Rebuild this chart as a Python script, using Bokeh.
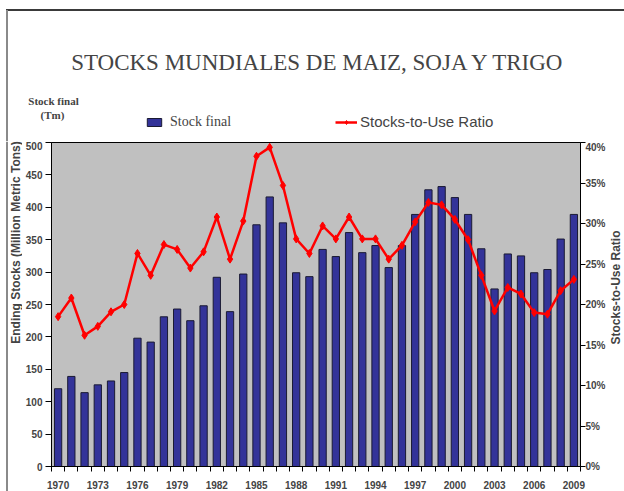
import math
from bokeh.plotting import figure
from bokeh.layouts import column, row
from bokeh.models import (Range1d, LinearAxis, FixedTicker, NumeralTickFormatter,
                          Label, Legend, LegendItem, ColumnDataSource, Span, BoxAnnotation)
from bokeh.embed import file_html
from bokeh.resources import INLINE

years = list(range(1970, 2010))
stocks = [120, 139, 114, 126, 132, 145, 198, 192, 231, 243, 225, 248, 292, 239, 297,
          373, 416, 376, 299, 293, 335, 324, 361, 330, 341, 307, 341, 389, 427, 432,
          415, 389, 336, 274, 328, 325, 299, 304, 351, 389]
ratio_pct = [18.5, 20.8, 16.2, 17.3, 19.1, 20.0, 26.3, 23.6, 27.4, 26.8, 24.5, 26.5,
             30.8, 25.6, 30.3, 38.3, 39.4, 34.7, 28.1, 26.3, 29.7, 28.1, 30.8, 28.1,
             28.1, 25.6, 27.3, 30.2, 32.6, 32.3, 30.5, 28.0, 23.6, 19.2, 22.1, 21.3,
             19.0, 18.8, 21.7, 23.1]
label_years = list(range(1970, 2010, 3))
left_ticks = list(range(0, 501, 50))
right_ticks = [0, 0.05, 0.10, 0.15, 0.20, 0.25, 0.30, 0.35, 0.40]

SANS = "Liberation Sans"
SERIF = "Liberation Serif"
BAR_STYLE = dict(fill_color="#333399", line_color="#1a1a33", line_width=1)
LINE_STYLE = dict(line_color="#ff0000", line_width=2.5)
MARK_STYLE = dict(marker="diamond", size=8, fill_color="#ff0000", line_color="#ff0000")

W = 624
HDR_H = 141
CH_H = 491 - HDR_H
LW = 22      # left strip (y-axis title)
RW = 16      # right strip (secondary axis title)
CW = W - LW - RW


def no_align(fig):
    try:
        fig.frame_align = False
    except Exception:
        pass


def blank(width, height):
    f = figure(width=width, height=height, output_backend="svg", toolbar_location=None,
               x_range=Range1d(0, width), y_range=Range1d(0, height),
               x_axis_type=None, y_axis_type=None, min_border=0)
    f.outline_line_color = None
    f.background_fill_color = "white"
    f.border_fill_color = "white"
    f.xgrid.visible = False
    f.ygrid.visible = False
    no_align(f)
    return f


# ---------------- header (title + legend) ----------------
hdr = blank(W, HDR_H)
# slide frame lines
hdr.add_layout(BoxAnnotation(left=5.5, bottom=HDR_H - 10.5, top=HDR_H - 8.5,
                             fill_color="#3a3a3a", fill_alpha=1, line_alpha=0))
hdr.add_layout(BoxAnnotation(left=5.5, right=7.5, top=HDR_H - 9.5,
                             fill_color="#8a8a8a", fill_alpha=1, line_alpha=0))

proxy = ColumnDataSource(dict(x=[float("nan")], y=[float("nan")]))
hb = hdr.vbar(x="x", top="y", width=1, source=proxy, **BAR_STYLE)
hl = hdr.line(x="x", y="y", source=proxy, **LINE_STYLE)
hs = hdr.scatter(x="x", y="y", source=proxy, **MARK_STYLE)

leg1 = Legend(items=[LegendItem(label="Stock final", renderers=[hb])],
              location=(145, 11), orientation="horizontal",
              label_text_font=SERIF, label_text_font_size="14px",
              background_fill_alpha=0, border_line_alpha=0, padding=0, margin=0,
              glyph_width=18, glyph_height=10, label_standoff=7)
leg2 = Legend(items=[LegendItem(label="Stocks-to-Use Ratio", renderers=[hl, hs])],
              location=(335, 11), orientation="horizontal",
              label_text_font=SANS, label_text_font_size="15px",
              background_fill_alpha=0, border_line_alpha=0, padding=0, margin=0,
              glyph_width=22, glyph_height=10, label_standoff=3)
hdr.add_layout(leg1)
hdr.add_layout(leg2)

hdr.add_layout(Label(x=318, y=HDR_H - 62, x_units="screen", y_units="screen",
                     text="STOCKS MUNDIALES DE MAIZ, SOJA Y TRIGO",
                     text_font=SERIF, text_font_size="23px",
                     text_align="center", text_baseline="middle"))
hdr.add_layout(Label(x=53, y=HDR_H - 100, x_units="screen", y_units="screen",
                     text="Stock final", text_font=SERIF, text_font_size="11px",
                     text_font_style="bold", text_align="center", text_baseline="middle"))
hdr.add_layout(Label(x=52, y=HDR_H - 114, x_units="screen", y_units="screen",
                     text="(Tm)", text_font=SERIF, text_font_size="11px",
                     text_font_style="bold", text_align="center", text_baseline="middle"))

# ---------------- axis-title strips ----------------
lstrip = blank(LW, CH_H)
lstrip.add_layout(Span(location=6.5, dimension="height", line_color="#8a8a8a",
                       line_width=2))
lstrip.add_layout(Label(x=15, y=CH_H - (242 - HDR_H), x_units="screen", y_units="screen",
                        text="Ending Stocks (Million Metric Tons)", angle=math.pi / 2,
                        text_font=SANS, text_font_size="12px", text_font_style="bold",
                        text_align="center", text_baseline="middle"))
rstrip = blank(RW, CH_H)
rstrip.add_layout(Label(x=7, y=CH_H - (287 - HDR_H), x_units="screen", y_units="screen",
                        text="Stocks-to-Use Ratio", angle=math.pi / 2,
                        text_font=SANS, text_font_size="12px", text_font_style="bold",
                        text_align="center", text_baseline="middle"))

# ---------------- chart ----------------
src = ColumnDataSource(dict(year=years, stocks=stocks,
                            ratio=[r / 100.0 for r in ratio_pct]))

p = figure(width=CW, height=CH_H, output_backend="svg", toolbar_location=None,
           x_range=Range1d(years[0] - 0.5, years[-1] + 0.5),
           y_range=Range1d(0, 500),
           min_border_left=51 - LW, min_border_right=W - RW - 583, min_border_top=1,
           min_border_bottom=24)
p.background_fill_color = "#c0c0c0"
p.border_fill_color = "white"
p.outline_line_color = "black"
p.outline_line_width = 1
p.xgrid.visible = False
p.ygrid.visible = False
p.extra_y_ranges = {"ratio": Range1d(0, 0.40)}
no_align(p)

xa = p.xaxis[0]
xa.ticker = FixedTicker(ticks=label_years,
                        minor_ticks=[y - 0.5 for y in years] + [years[-1] + 0.5])
xa.major_tick_out = 0
xa.major_tick_in = 0
xa.minor_tick_out = 5
xa.minor_tick_in = 0
xa.major_label_standoff = 9
xa.major_label_text_font = SANS
xa.major_label_text_font_style = "bold"
xa.major_label_text_font_size = "10px"
xa.axis_line_color = "black"
xa.minor_tick_line_color = "black"

ya = p.yaxis[0]
ya.ticker = FixedTicker(ticks=left_ticks, minor_ticks=[])
ya.major_tick_out = 6
ya.major_tick_in = 0
ya.major_label_standoff = 3
ya.major_label_text_font = SANS
ya.major_label_text_font_style = "bold"
ya.major_label_text_font_size = "10px"

ra = LinearAxis(y_range_name="ratio", ticker=FixedTicker(ticks=right_ticks, minor_ticks=[]),
                formatter=NumeralTickFormatter(format="0%"))
ra.major_tick_out = 5
ra.major_tick_in = 0
ra.major_label_standoff = 0
ra.major_label_text_font = SANS
ra.major_label_text_font_style = "bold"
ra.major_label_text_font_size = "10px"
p.add_layout(ra, "right")

p.vbar(x="year", top="stocks", width=0.55, source=src, **BAR_STYLE)
p.line(x="year", y="ratio", source=src, y_range_name="ratio", **LINE_STYLE)
p.scatter(x="year", y="ratio", source=src, y_range_name="ratio", **MARK_STYLE)

layout = column(hdr, row(lstrip, p, rstrip, spacing=0), spacing=0)
open("out.html", "w").write(file_html(layout, INLINE))
